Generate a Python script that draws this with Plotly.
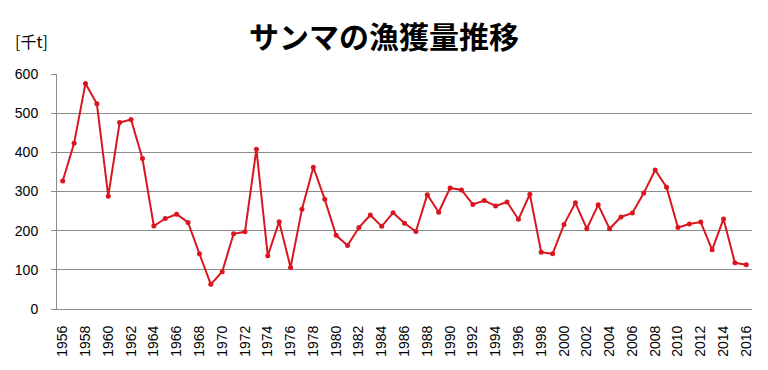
import plotly.graph_objects as go

years = list(range(1956, 2017))
catch_kt = [327, 423, 576, 524, 288, 476, 484, 384, 212, 231,
            242, 221, 141, 63, 95, 192, 197, 408, 136, 223,
            106, 255, 362, 280, 188, 162, 208, 240, 211, 246,
            219, 198, 292, 247, 309, 304, 267, 277, 263, 273,
            229, 293, 145, 141, 216, 271, 205, 266, 205, 235,
            245, 296, 355, 311, 208, 217, 222, 151, 230, 118,
            113]
tick_years = list(range(1956, 2017, 2))
y_ticks = [0, 100, 200, 300, 400, 500, 600]

fig = go.Figure()
fig.add_trace(go.Scatter(
    x=years, y=catch_kt, mode="lines+markers",
    line=dict(color="#D9161F", width=2),
    marker=dict(color="#D9161F", size=5),
    showlegend=False,
))

font_tick = dict(family="Liberation Sans, Arial, sans-serif", size=14, color="#000000")

fig.update_layout(
    width=768, height=370,
    margin=dict(l=57, r=16, t=74, b=61, autoexpand=False),
    paper_bgcolor="white", plot_bgcolor="white",
    title=dict(text="<b>サンマの漁獲量推移</b>", x=0.5, xanchor="center",
               y=0.9, yanchor="middle",
               font=dict(family="Noto Sans CJK JP", size=30, color="#000000")),
    xaxis=dict(range=[1955.5, 2016.5], tickmode="array", tickvals=tick_years,
               ticktext=[str(y) for y in tick_years], tickangle=-90,
               tickfont=font_tick, showgrid=False, zeroline=False, automargin=False,
               showline=True, linecolor="#8C8C8C", linewidth=1, ticks="",
               ticklabelstandoff=10),
    yaxis=dict(range=[0, 600], tickmode="array", tickvals=y_ticks,
               tickfont=font_tick, showgrid=True, gridcolor="#8C8C8C", gridwidth=1,
               zeroline=False, showline=True, linecolor="#8C8C8C", linewidth=1,
               automargin=False, ticklabelstandoff=10,
               ticks="outside", ticklen=5, tickcolor="#8C8C8C"),
    annotations=[dict(text="[千t]", xref="paper", yref="paper", x=-0.064, y=1.14,
                      xanchor="left", yanchor="middle", showarrow=False,
                      font=dict(family="Noto Sans CJK JP", size=16, color="#000000"))],
)

fig.write_html("out.html", config={"displayModeBar": False},
               post_script="document.body.style.margin='0';document.body.style.overflow='hidden';")
